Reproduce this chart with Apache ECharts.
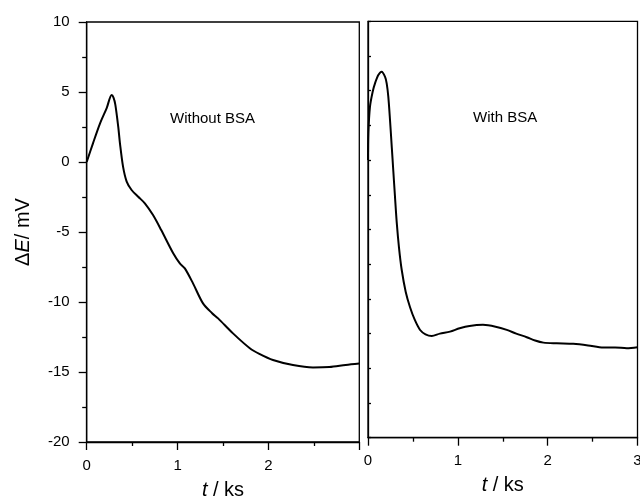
<!DOCTYPE html>
<html>
<head>
<meta charset="utf-8">
<style>
  html, body { margin: 0; padding: 0; background: #fff; }
  #chart { width: 640px; height: 497px; }
</style>
<script src="https://cdn.jsdelivr.net/npm/echarts@6/dist/echarts.min.js"></script>
</head>
<body>
<div id="chart"></div>
<script>
// Potential change ΔE (mV) against time t (ks), without and with BSA
const timeWithout = [0, 0.07, 0.147, 0.22, 0.275, 0.295, 0.315, 0.347, 0.366, 0.40, 0.44, 0.494, 0.567, 0.64, 0.73, 0.82, 0.952, 1.025, 1.08, 1.17, 1.28, 1.38, 1.446, 1.61, 1.795, 1.9, 2.05, 2.27, 2.49, 2.67, 2.85, 3.0];
const deltaEWithout = [0, 1.35, 2.76, 3.85, 4.79, 4.6, 4.1, 2.52, 1.33, -0.33, -1.4, -2.0, -2.48, -2.95, -3.79, -4.86, -6.52, -7.24, -7.6, -8.67, -10.1, -10.8, -11.17, -12.24, -13.3, -13.7, -14.14, -14.5, -14.67, -14.65, -14.5, -14.4];

const timeWith = [0, 0.004, 0.022, 0.052, 0.078, 0.115, 0.152, 0.19, 0.208, 0.226, 0.245, 0.265, 0.282, 0.3, 0.32, 0.345, 0.375, 0.42, 0.468, 0.52, 0.58, 0.64, 0.709, 0.8, 0.913, 1.02, 1.13, 1.28, 1.42, 1.545, 1.65, 1.767, 1.86, 1.953, 2.1, 2.286, 2.45, 2.62, 2.75, 2.88, 3.0];
const deltaEWith = [0, 1.93, 3.85, 4.93, 5.53, 6.13, 6.37, 6.0, 5.53, 4.57, 2.89, 0.9, -0.8, -2.6, -4.5, -6.3, -7.9, -9.5, -10.6, -11.5, -12.24, -12.55, -12.67, -12.5, -12.36, -12.12, -11.95, -11.87, -12.0, -12.23, -12.5, -12.76, -13.0, -13.15, -13.2, -13.24, -13.35, -13.5, -13.5, -13.55, -13.48];

const xTicks = [0, 1, 2, 3];
const yTicks = [-20, -15, -10, -5, 0, 5, 10];
const panelLabels = ['Without BSA', 'With BSA'];
const xTitle = '{i|t} / ks';
const yTitle = '\u0394{i|E}/ mV';

const FONT = 'Liberation Sans, Arial, Helvetica, sans-serif';
const INK = '#000';

function pairs(xs, ys) { return xs.map((x, i) => [x, ys[i]]); }

function xAxisFor(gridIndex, hideLast) {
  return {
    type: 'value', gridIndex,
    min: xTicks[0], max: xTicks[xTicks.length - 1], interval: 1,
    name: xTitle, nameLocation: 'middle', nameGap: 38,
    nameTextStyle: { fontFamily: FONT, fontSize: 20, color: INK,
      rich: { i: { fontFamily: FONT, fontSize: 20, fontStyle: 'italic', color: INK } } },
    axisLine: { show: true, onZero: false, lineStyle: { color: INK, width: 1.3 } },
    axisTick: { show: true, inside: false, length: 8, lineStyle: { color: INK, width: 1.3 } },
    minorTick: { show: true, splitNumber: 2, length: 4, lineStyle: { color: INK, width: 1.3 } },
    axisLabel: { fontFamily: FONT, fontSize: 15, color: INK, margin: 16,
      formatter: v => (hideLast && v === xTicks[xTicks.length - 1]) ? '' : String(v) },
    splitLine: { show: false }, minorSplitLine: { show: false }
  };
}

const option = {
  backgroundColor: '#fff',
  animation: false,
  grid: [
    { left: 86.7, top: 22, width: 272.6, height: 420, outerBoundsMode: 'none', containLabel: false,
      show: true, borderColor: INK, borderWidth: 1.3, backgroundColor: 'transparent' },
    { left: 368, top: 21.3, width: 269.5, height: 416.4, outerBoundsMode: 'none', containLabel: false,
      show: true, borderColor: INK, borderWidth: 1.3, backgroundColor: 'transparent' }
  ],
  xAxis: [xAxisFor(0, true), xAxisFor(1, false)],
  yAxis: [
    {
      type: 'value', gridIndex: 0,
      min: yTicks[0], max: yTicks[yTicks.length - 1], interval: 5,
      name: yTitle, nameLocation: 'middle', nameGap: 53, nameRotate: 90,
      nameTextStyle: { fontFamily: FONT, fontSize: 20, color: INK,
        rich: { i: { fontFamily: FONT, fontSize: 20, fontStyle: 'italic', color: INK } } },
      axisLine: { show: true, onZero: false, lineStyle: { color: INK, width: 1.3 } },
      axisTick: { show: true, inside: false, length: 8, lineStyle: { color: INK, width: 1.3 } },
      minorTick: { show: true, splitNumber: 2, length: 4.5, lineStyle: { color: INK, width: 1.3 } },
      axisLabel: { fontFamily: FONT, fontSize: 15, color: INK, margin: 17 },
      splitLine: { show: false }, minorSplitLine: { show: false }
    },
    {
      type: 'value', gridIndex: 1,
      min: yTicks[0], max: yTicks[yTicks.length - 1], interval: 2.5,
      axisLine: { show: true, onZero: false, lineStyle: { color: INK, width: 1.3 } },
      axisTick: { show: true, inside: true, length: 3, lineStyle: { color: INK, width: 1.3 } },
      axisLabel: { show: false },
      splitLine: { show: false }
    }
  ],
  series: [
    {
      type: 'line', xAxisIndex: 0, yAxisIndex: 0,
      data: pairs(timeWithout, deltaEWithout),
      showSymbol: false, smooth: 0.3, clip: true,
      lineStyle: { color: INK, width: 2 }
    },
    {
      type: 'line', xAxisIndex: 1, yAxisIndex: 1,
      data: pairs(timeWith, deltaEWith),
      showSymbol: false, smooth: 0.3, clip: true,
      lineStyle: { color: INK, width: 2 }
    }
  ],
  graphic: [
    { type: 'text', x: 170, y: 119, style: { text: panelLabels[0], font: '15px ' + FONT, fill: INK, textAlign: 'left', textVerticalAlign: 'middle' } },
    { type: 'text', x: 473, y: 117.5, style: { text: panelLabels[1], font: '15px ' + FONT, fill: INK, textAlign: 'left', textVerticalAlign: 'middle' } }
  ]
};

const chart = echarts.init(document.getElementById('chart'), null, { renderer: 'canvas' });
chart.setOption(option);
</script>
</body>
</html>
